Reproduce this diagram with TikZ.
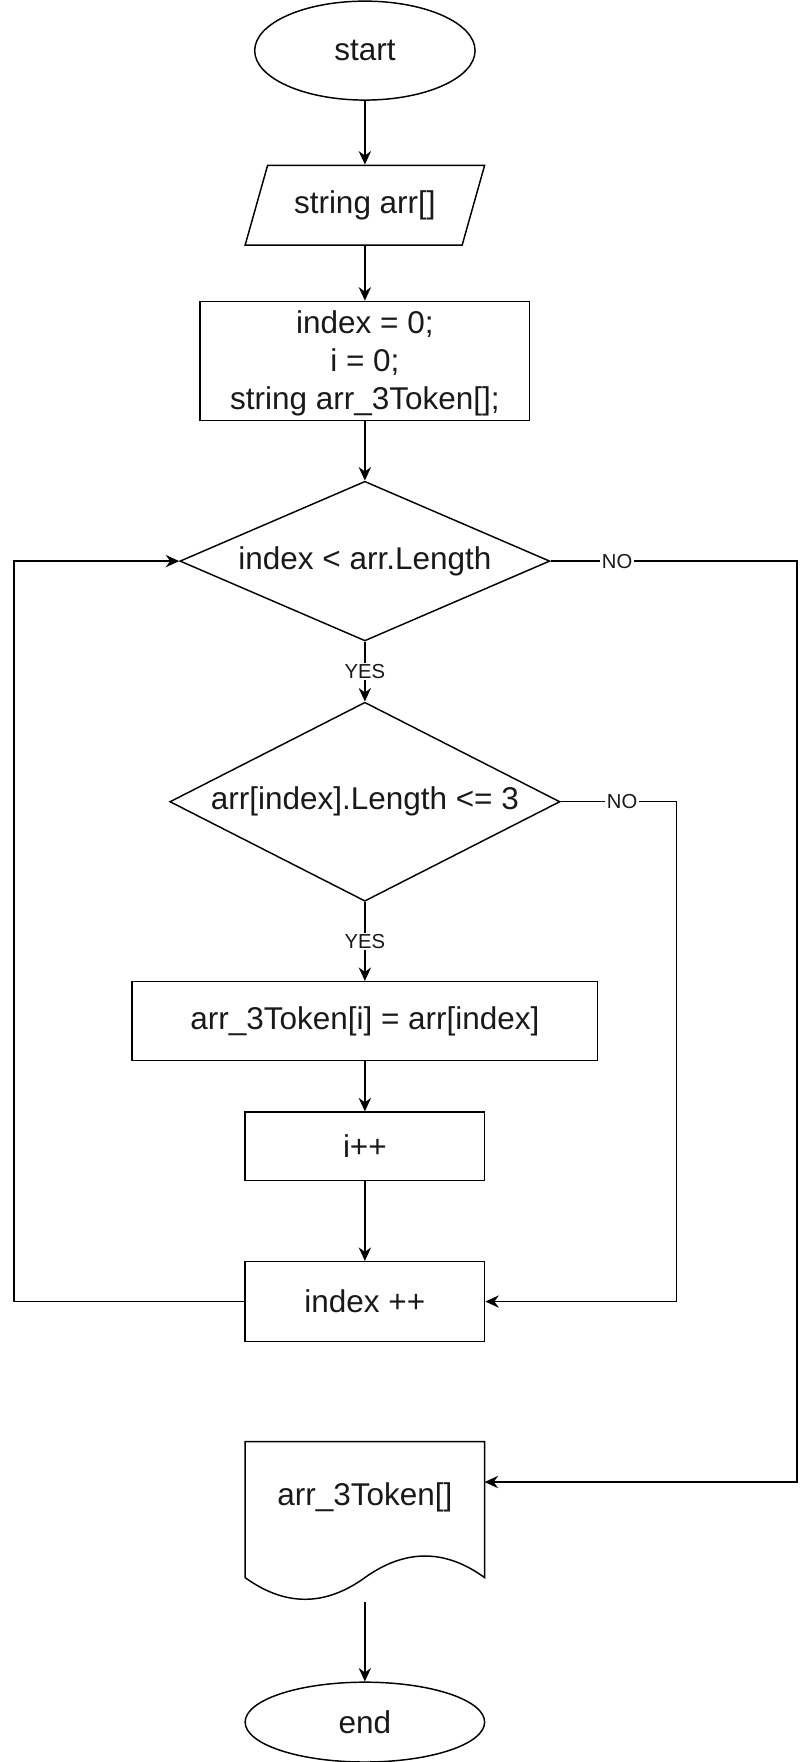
\documentclass[tikz,border=0pt]{standalone}
\usepackage{fontspec}
\setmainfont{Liberation Sans}
\usetikzlibrary{shapes.geometric,arrows.meta}
\begin{document}
\begin{tikzpicture}[x=1pt,y=-1pt,line width=1.3pt,
  every node/.style={font=\fontsize{28}{34}\selectfont,inner sep=0pt,text=black!90},
  term/.style={ellipse,draw},
  proc/.style={rectangle,draw},
  dec/.style={diamond,draw},
  lbl/.style={font=\fontsize{18}{18}\selectfont,fill=white,inner sep=1.5pt},
  arr/.style={-{Stealth[length=12pt,width=11pt,inset=4pt]}}]
\useasboundingbox (0,0) rectangle (722,1567);

\node[term,minimum width=196,minimum height=88] (start) at (324.5,45) {start};

\draw (238,147) -- (431,147) -- (411,218) -- (218,218) -- cycle;
\node[minimum width=213,minimum height=71] (input) at (324.5,182.5) {string arr[]};

\node[proc,minimum width=293,minimum height=106] (init) at (324.5,321) {};
\node[align=center] (inittext) at (324.5,323) {index = 0;\\i = 0;\\string arr\_3Token[];};

\node[dec,shape aspect=2.32,minimum width=329,minimum height=142] (d1) at (324.5,499) {index < arr.Length};
\node[dec,shape aspect=1.96,minimum width=347,minimum height=177] (d2) at (324.5,713) {arr[index].Length <= 3};

\node[proc,minimum width=414,minimum height=70] (assign) at (324.5,908) {arr\_3Token[i] = arr[index]};
\node[proc,minimum width=213,minimum height=61] (inc) at (324.5,1019.5) {i++};
\node[proc,minimum width=213,minimum height=71] (idx) at (324.5,1157.5) {index ++};

\draw (218,1282) -- (431,1282) -- (431,1403)
  .. controls (395.8,1377.4) and (360.3,1377.4) .. (324.5,1403)
  .. controls (289,1428.7) and (253.5,1428.7) .. (218,1403) -- cycle;
\node[minimum width=213,minimum height=142.4] (doc) at (324.5,1353.2) {};
\node (doctext) at (324.5,1332) {arr\_3Token[]};
\coordinate (docin) at (431,1318);

\node[term,minimum width=213,minimum height=71] (end) at (324.5,1531.5) {end};

\draw[arr] (start.south) -- (input.north);
\draw[arr] (input.south) -- (init.north);
\draw[arr] (init.south) -- (d1.north);
\draw[arr] (d1.south) -- node[lbl,midway]{YES} (d2.north);
\draw[arr] (d2.south) -- node[lbl,midway]{YES} (assign.north);
\draw[arr] (assign.south) -- (inc.north);
\draw[arr] (inc.south) -- (idx.north);
\draw[arr] (idx.west) -- ++(-205,0) |- (d1.west);
\draw[arr] (d2.east) -- node[lbl,pos=0.53]{NO} ++(103,0) |- (idx.east);
\draw[arr] (d1.east) -- node[lbl,pos=0.27]{NO} ++(219,0) |- (docin);
\draw[arr] (doc.south) -- (end.north);
\end{tikzpicture}
\end{document}
